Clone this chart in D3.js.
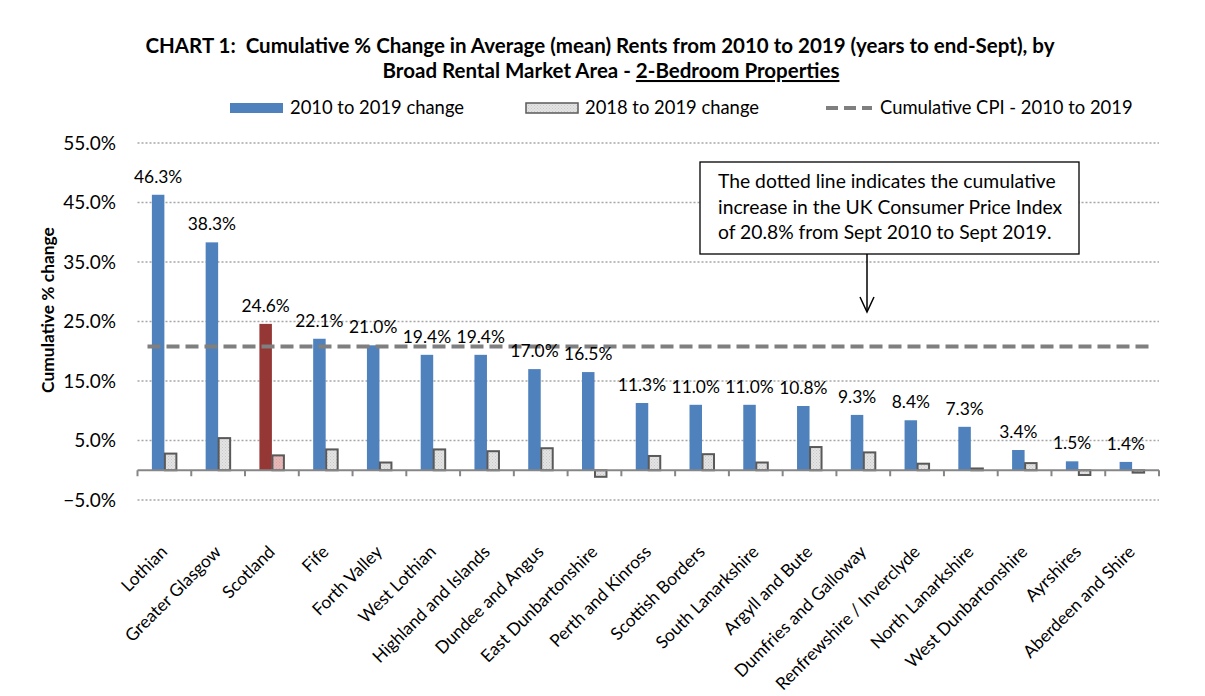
<!DOCTYPE html>
<html>
<head>
<meta charset="utf-8">
<script src="https://cdn.jsdelivr.net/npm/d3@7"></script>
<style>
  body { margin: 0; background: #fff; }
  svg { font-family: Lato, "Open Sans", sans-serif; }
</style>
</head>
<body>
<div id="chart"></div>
<script>
const areas = ["Lothian", "Greater Glasgow", "Scotland", "Fife", "Forth Valley", "West Lothian",
  "Highland and Islands", "Dundee and Angus", "East Dunbartonshire", "Perth and Kinross",
  "Scottish Borders", "South Lanarkshire", "Argyll and Bute", "Dumfries and Galloway",
  "Renfrewshire / Inverclyde", "North Lanarkshire", "West Dunbartonshire", "Ayrshires",
  "Aberdeen and Shire"];
const change2010 = [46.3, 38.3, 24.6, 22.1, 21.0, 19.4, 19.4, 17.0, 16.5, 11.3, 11.0, 11.0,
  10.8, 9.3, 8.4, 7.3, 3.4, 1.5, 1.4];
const change2018 = [2.8, 5.4, 2.5, 3.5, 1.3, 3.5, 3.2, 3.7, -1.1, 2.4, 2.7, 1.3, 3.9, 3.0,
  1.1, 0.3, 1.2, -0.8, -0.4];
const cpi = 20.8;
const yTicks = [-5, 5, 15, 25, 35, 45, 55];

const width = 1205, height = 696;
const plotLeft = 137.5, plotRight = 1159, plotTop = 143, plotBottom = 500;

const svg = d3.select("#chart").append("svg")
  .attr("width", width).attr("height", height);

// stipple pattern for the 2018-19 bars
const defs = svg.append("defs");
function stipple(id, bg, dot) {
  const p = defs.append("pattern").attr("id", id)
    .attr("width", 3).attr("height", 3).attr("patternUnits", "userSpaceOnUse");
  p.append("rect").attr("width", 3).attr("height", 3).attr("fill", bg);
  p.append("rect").attr("width", 1).attr("height", 1).attr("fill", dot);
  p.append("rect").attr("x", 1.5).attr("y", 1.5).attr("width", 1).attr("height", 1).attr("fill", dot);
}
stipple("dots", "#e4e4e4", "#c8c8c8");
stipple("dotsPink", "#e6b9b8", "#dba4a3");

const x = d3.scaleBand().domain(areas).range([plotLeft, plotRight]);
const y = d3.scaleLinear().domain([-5, 55]).range([plotBottom, plotTop]);
const barW = 12.5;

// title
const title = svg.append("text").attr("text-anchor", "middle")
  .attr("font-weight", "bold").attr("font-size", 20.5).attr("xml:space", "preserve");
title.append("tspan").attr("x", 600).attr("y", 53)
  .text("CHART 1:  Cumulative % Change in Average (mean) Rents from 2010 to 2019 (years to end-Sept), by");
title.append("tspan").attr("x", 611).attr("y", 78).text("Broad Rental Market Area - ");
title.append("tspan").attr("text-decoration", "underline").text("2-Bedroom Properties");

// legend
const lg = svg.append("g").attr("font-size", 18.4);
lg.append("rect").attr("x", 230).attr("y", 103).attr("width", 53).attr("height", 10).attr("fill", "#4f81bd");
lg.append("text").attr("x", 290).attr("y", 114).text("2010 to 2019 change");
lg.append("rect").attr("x", 526).attr("y", 103).attr("width", 52).attr("height", 10)
  .attr("fill", "url(#dots)").attr("stroke", "#595959").attr("stroke-width", 1.5);
lg.append("text").attr("x", 585).attr("y", 114).text("2018 to 2019 change");
lg.append("line").attr("x1", 826).attr("x2", 872).attr("y1", 108).attr("y2", 108)
  .attr("stroke", "#7f7f7f").attr("stroke-width", 4).attr("stroke-dasharray", "12,6");
lg.append("text").attr("x", 880).attr("y", 114).text("Cumulative CPI - 2010 to 2019");

// gridlines
svg.append("g").selectAll("line").data(yTicks).join("line")
  .attr("x1", plotLeft).attr("x2", plotRight)
  .attr("y1", d => y(d)).attr("y2", d => y(d))
  .attr("stroke", "#a6a6a6").attr("stroke-width", 1.5).attr("stroke-dasharray", "2,2");

// y axis labels
svg.append("g").attr("font-size", 19).attr("text-anchor", "end")
  .selectAll("text").data(yTicks).join("text")
  .attr("x", 116).attr("y", d => y(d)).attr("dy", "0.35em")
  .text(d => d3.format(".1f")(d) + "%");

svg.append("text")
  .attr("transform", "translate(54,310) rotate(-90)")
  .attr("text-anchor", "middle").attr("font-weight", "bold").attr("font-size", 17.4)
  .text("Cumulative % change");

// bars 2010-2019
svg.append("g").selectAll("rect").data(areas).join("rect")
  .attr("x", d => x(d) + x.bandwidth() / 2 - barW)
  .attr("width", barW)
  .attr("y", (d, i) => y(Math.max(0, change2010[i])))
  .attr("height", (d, i) => Math.abs(y(change2010[i]) - y(0)))
  .attr("fill", d => d === "Scotland" ? "#953735" : "#4f81bd");

// bars 2018-2019
svg.append("g").selectAll("rect").data(areas).join("rect")
  .attr("x", d => x(d) + x.bandwidth() / 2 + 0.5)
  .attr("width", barW - 1)
  .attr("y", (d, i) => y(Math.max(0, change2018[i])))
  .attr("height", (d, i) => Math.abs(y(change2018[i]) - y(0)))
  .attr("fill", d => d === "Scotland" ? "url(#dotsPink)" : "url(#dots)")
  .attr("stroke", "#595959").attr("stroke-width", 2);

// zero axis with ticks
const ax = svg.append("g").attr("stroke", "#868686").attr("stroke-width", 2);
ax.append("line").attr("x1", plotLeft).attr("x2", plotRight).attr("y1", y(0)).attr("y2", y(0));
ax.selectAll("line.t").data(areas.concat([null])).join("line").attr("class", "t")
  .attr("x1", (d, i) => plotLeft + i * x.step()).attr("x2", (d, i) => plotLeft + i * x.step())
  .attr("y1", y(0)).attr("y2", y(0) + 6);

// CPI line
svg.append("line").attr("x1", plotLeft + 10).attr("x2", plotRight - 8)
  .attr("y1", y(cpi)).attr("y2", y(cpi))
  .attr("stroke", "#7f7f7f").attr("stroke-width", 4).attr("stroke-dasharray", "13,6");

// value labels
svg.append("g").attr("font-size", 17.4).attr("text-anchor", "middle")
  .selectAll("text").data(areas).join("text")
  .attr("x", d => x(d) + x.bandwidth() / 2 - barW / 2)
  .attr("y", (d, i) => y(change2010[i]) - 12)
  .text((d, i) => d3.format(".1f")(change2010[i]) + "%");

// category labels
svg.append("g").attr("font-size", 17.4).attr("text-anchor", "end")
  .selectAll("text").data(areas).join("text")
  .attr("transform", d => `translate(${x(d) + x.bandwidth() / 2 + 4},${553}) rotate(-45)`)
  .text(d => d);

// annotation
const ann = svg.append("g");
ann.append("rect").attr("x", 700).attr("y", 162).attr("width", 379).attr("height", 92)
  .attr("fill", "#fff").attr("stroke", "#000").attr("stroke-width", 1.3);
const at = ann.append("text").attr("font-size", 19.3);
["The dotted line indicates the cumulative", "increase in the UK Consumer Price Index",
 "of 20.8% from Sept 2010 to Sept 2019."].forEach((t, i) =>
  at.append("tspan").attr("x", 718).attr("y", 188 + i * 25.5).text(t));
ann.append("line").attr("x1", 867).attr("x2", 867).attr("y1", 254).attr("y2", 311)
  .attr("stroke", "#000").attr("stroke-width", 1.5);
ann.append("path").attr("d", "M860,297 L867,312 L874,297")
  .attr("fill", "none").attr("stroke", "#000").attr("stroke-width", 1.5);
</script>
</body>
</html>
